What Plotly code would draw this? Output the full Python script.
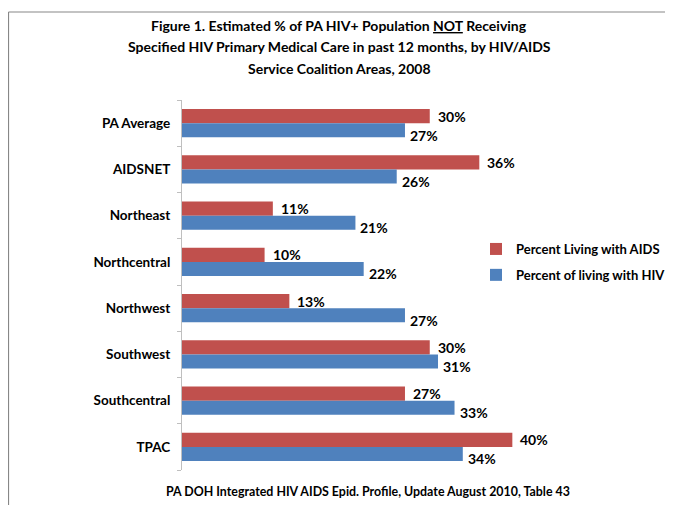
import plotly.graph_objects as go

categories = ["PA Average", "AIDSNET", "Northeast", "Northcentral", "Northwest",
              "Southwest", "Southcentral", "TPAC"]
aids_values = [30, 36, 11, 10, 13, 30, 27, 40]
hiv_values = [27, 26, 21, 22, 27, 31, 33, 34]
aids_name = "Percent Living with AIDS"
hiv_name = "Percent of living with HIV"

FONT = "Lato, 'Open Sans', sans-serif"
RED = "#c0504d"
BLUE = "#4f81bd"

OFF = 8  # page body margin
W, H = 673 - OFF, 505 - OFF
ML = 182 - OFF
MT = 100 - OFF
MB = H - (470 - OFF)
MR = W - (670 - OFF)
plot_w = W - ML - MR
plot_h = H - MT - MB
XMAX = (670 - 181.5) / 8.267


def px_x(p):
    """reference-picture x pixel -> paper fraction"""
    return (p - OFF - ML) / plot_w


def px_y(p):
    """reference-picture y pixel -> paper fraction"""
    return (H - MB - (p - OFF)) / plot_h


fig = go.Figure()
fig.add_trace(go.Bar(y=categories, x=aids_values, orientation="h",
                     name=f"<b>{aids_name}</b>", legendgroup="a",
                     marker=dict(color=RED, line=dict(width=0))))
fig.add_trace(go.Bar(y=categories, x=hiv_values, orientation="h",
                     name=f"<b>{hiv_name}</b>", legendgroup="b",
                     marker=dict(color=BLUE, line=dict(width=0))))

annotations = []
for c, v in zip(categories, aids_values):
    annotations.append(dict(x=v, y=c, xref="x", yref="y", text=f"<b>{v}%</b>",
                            showarrow=False, xanchor="left", xshift=6, yshift=7,
                            font=dict(family=FONT, size=14, color="#000")))
for c, v in zip(categories, hiv_values):
    annotations.append(dict(x=v, y=c, xref="x", yref="y", text=f"<b>{v}%</b>",
                            showarrow=False, xanchor="left", xshift=3, yshift=-12,
                            font=dict(family=FONT, size=14, color="#000")))

title_lines = [
    ("<b>Figure 1. Estimated % of PA HIV+ Population <u>NOT</u> Receiving</b>", 25),
    ("<b>Specified HIV Primary Medical Care in past 12 months, by HIV/AIDS</b>", 47),
    ("<b>Service Coalition Areas, 2008</b>", 69),
]
for txt, yy in title_lines:
    annotations.append(dict(
        x=px_x(339), y=px_y(yy), xref="paper", yref="paper", text=txt,
        showarrow=False, xanchor="center", yanchor="middle",
        font=dict(family=FONT, size=14, color="#000")))

annotations.append(dict(
    x=px_x(368), y=px_y(491), xref="paper", yref="paper",
    text="<b>PA DOH Integrated HIV AIDS Epid. Profile, Update August 2010, Table 43</b>",
    showarrow=False, xanchor="center", yanchor="middle",
    font=dict(family=FONT, size=12.4, color="#000")))

shapes = [
    dict(type="line", xref="paper", yref="paper", x0=px_x(8.5), x1=px_x(690),
         y0=px_y(12), y1=px_y(12), line=dict(color="#878787", width=1.2)),
    dict(type="line", xref="paper", yref="paper", x0=px_x(8.5), x1=px_x(8.5),
         y0=px_y(12), y1=px_y(520), line=dict(color="#878787", width=1.2)),
]

fig.update_layout(
    width=W, height=H,
    margin=dict(l=ML, r=MR, t=MT, b=MB, autoexpand=False),
    paper_bgcolor="white", plot_bgcolor="white",
    barmode="group", bargap=0.39, bargroupgap=0,
    showlegend=True,
    legend=dict(x=px_x(476), y=px_y(234), xanchor="left", yanchor="top",
                font=dict(family=FONT, size=13, color="#000"),
                bgcolor="rgba(0,0,0,0)", itemwidth=30, tracegroupgap=6,
                traceorder="grouped"),
    annotations=annotations,
    shapes=shapes,
    xaxis=dict(range=[0, XMAX], visible=False, showgrid=False, zeroline=False),
    yaxis=dict(autorange="reversed", showline=True, linecolor="#bfbfbf", linewidth=1,
               ticks="outside", ticklen=4, tickcolor="#bfbfbf",
               tickson="boundaries", showgrid=False,
               tickfont=dict(family=FONT, size=13.5, color="#000"),
               ticklabelstandoff=8),
    font=dict(family=FONT),
)
fig.update_yaxes(ticktext=[f"<b>{c}</b>" for c in categories], tickvals=categories)

fig.write_html("out.html")
